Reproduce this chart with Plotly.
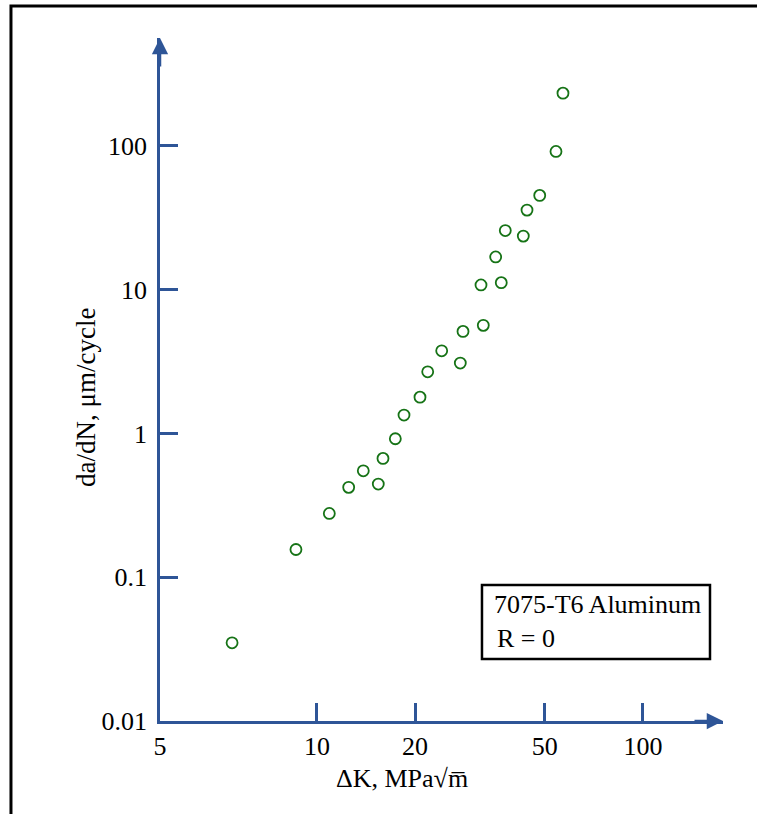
import math
import plotly.graph_objects as go

# Data (ΔK in MPa√m, da/dN in μm/cycle)
delta_k = [5.49, 8.62, 10.91, 12.51, 13.87, 15.42, 15.94, 17.39, 18.49, 20.7,
           21.86, 24.13, 27.52, 28.05, 31.85, 32.37, 35.33, 36.75, 37.81, 42.94,
           44.08, 48.22, 54.09, 56.83]
dadn = [0.035, 0.156, 0.278, 0.422, 0.55, 0.445, 0.671, 0.919, 1.343, 1.79,
        2.686, 3.76, 3.09, 5.13, 10.8, 5.65, 16.9, 11.2, 25.8, 23.6,
        35.8, 45.3, 91.6, 233.0]

x_tick_vals = [3.3, 10, 20, 50, 100]
x_tick_text = ["5", "10", "20", "50", "100"]
y_tick_vals = [0.01, 0.1, 1, 10, 100]
y_tick_text = ["0.01", "0.1", "1", "10", "100"]

x_range = [math.log10(3.3), 2.2454]
y_range = [-2, 2.751]

AXIS = "#2E5597"
GREEN = "#167316"
FONT = "Liberation Serif"
FS = 26

fig = go.Figure()
fig.add_trace(go.Scatter(
    x=delta_k, y=dadn, mode="markers",
    marker=dict(symbol="circle-open", size=11, color=GREEN, line=dict(width=1.8, color=GREEN)),
    showlegend=False, cliponaxis=False,
))

axis_common = dict(
    showgrid=False, zeroline=False, showline=True, linecolor=AXIS, linewidth=2.5,
    ticks="inside", ticklen=18, tickwidth=2.5, tickcolor=AXIS,
    tickfont=dict(family=FONT, size=FS, color="black"),
)

fig.update_xaxes(type="log", range=x_range, tickvals=x_tick_vals, ticktext=x_tick_text,
                 ticklabelstandoff=0, **axis_common)
fig.update_yaxes(type="log", range=y_range, tickvals=y_tick_vals, ticktext=y_tick_text,
                 ticklabelstandoff=5, **axis_common)

# Arrowheads at the axis ends
fig.add_annotation(x=1.0, y=0, xref="paper", yref="paper", ax=-30, ay=0, axref="pixel", ayref="pixel",
                   text="", showarrow=True, arrowhead=2, arrowsize=1.3, arrowwidth=2.5, arrowcolor=AXIS)
fig.add_annotation(x=0, y=1.0, xref="paper", yref="paper", ax=0, ay=30, axref="pixel", ayref="pixel",
                   text="", showarrow=True, arrowhead=2, arrowsize=1.3, arrowwidth=2.5, arrowcolor=AXIS)

# Axis titles
fig.add_annotation(x=-0.1314, y=0.4729, xref="paper", yref="paper", text="da/dN, μm/cycle",
                   textangle=-90, showarrow=False, font=dict(family=FONT, size=27, color="black"),
                   xanchor="center", yanchor="middle")
fig.add_annotation(x=0.4298, y=-0.0849, xref="paper", yref="paper", text="ΔK, MPa√m\u0305",
                   showarrow=False, font=dict(family=FONT, size=FS, color="black"),
                   xanchor="center", yanchor="middle")

# Label box
fig.add_shape(type="rect", xref="paper", yref="paper", x0=0.5719, x1=0.9769, y0=0.0908, y1=0.1991,
              line=dict(color="black", width=2.5), fillcolor="white", layer="above")
fig.add_annotation(x=0.5897, y=0.1713, xref="paper", yref="paper", text="7075-T6 Aluminum",
                   showarrow=False, font=dict(family=FONT, size=FS, color="black"),
                   xanchor="left", yanchor="middle")
fig.add_annotation(x=0.595, y=0.1201, xref="paper", yref="paper", text="R = 0",
                   showarrow=False, font=dict(family=FONT, size=FS, color="black"),
                   xanchor="left", yanchor="middle")

# Outer frame
fig.add_shape(type="rect", xref="paper", yref="paper", x0=-0.2647, x1=1.12, y0=-0.16, y1=1.0469,
              line=dict(color="black", width=3), fillcolor="rgba(0,0,0,0)", layer="above")

fig.update_layout(
    width=757, height=814,
    margin=dict(l=160, r=34, t=38, b=93),
    paper_bgcolor="white", plot_bgcolor="white",
)

fig.write_html("out.html", config={"displayModeBar": False},
               post_script="document.body.style.margin='0';")
